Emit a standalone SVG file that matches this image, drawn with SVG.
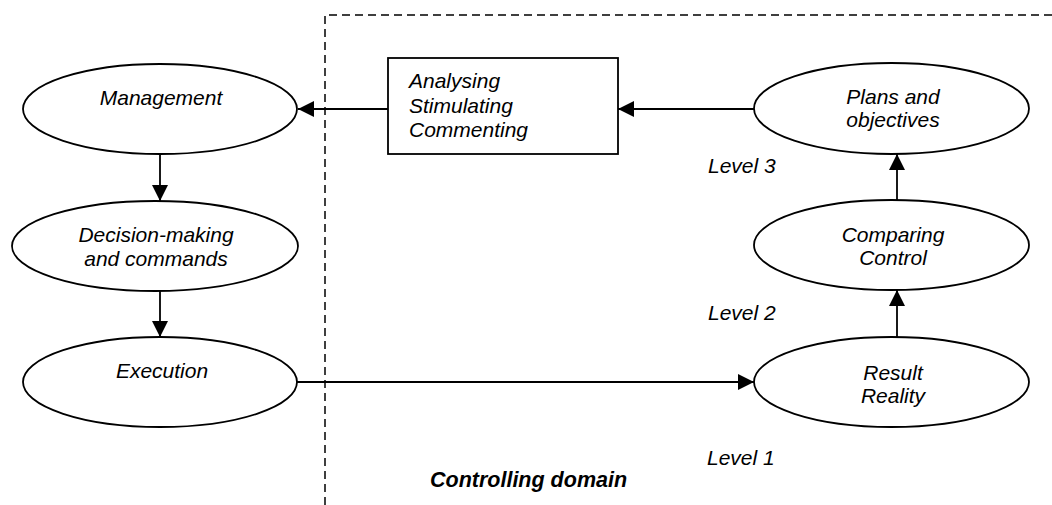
<svg xmlns="http://www.w3.org/2000/svg" width="1052" height="505" viewBox="0 0 1052 505">
  <style>
    .shape { fill: #fff; stroke: #000; stroke-width: 1.8; }
    .edge { fill: none; stroke: #000; stroke-width: 1.8; }
    .lbl { font-family: "Liberation Sans", Arial, sans-serif; font-size: 21px; font-style: italic; fill: #000; }
    .mid { text-anchor: middle; }
    .bold { font-weight: bold; font-size: 21.5px; }
    .domain { fill: none; stroke: #000; stroke-width: 1.5; stroke-dasharray: 8 5; }
  </style>
  <defs>
    <marker id="arrow" viewBox="0 0 16 16" refX="16" refY="8" markerWidth="16" markerHeight="16" markerUnits="userSpaceOnUse" orient="auto">
      <path d="M0,0 L16,8 L0,16 Z" fill="#000"/>
    </marker>
  </defs>
  <rect width="1052" height="505" fill="#fff"/>

  <!-- controlling domain boundary -->
  <path class="domain" d="M325,505 L325,15 L1052,15"/>

  <g id="connectors">
    <line class="edge" x1="388" y1="109" x2="298" y2="109" marker-end="url(#arrow)"/>
    <line class="edge" x1="754" y1="109" x2="618" y2="109" marker-end="url(#arrow)"/>
    <line class="edge" x1="160" y1="154" x2="160" y2="201" marker-end="url(#arrow)"/>
    <line class="edge" x1="160" y1="291" x2="160" y2="337" marker-end="url(#arrow)"/>
    <line class="edge" x1="297" y1="382" x2="754" y2="382" marker-end="url(#arrow)"/>
    <line class="edge" x1="897" y1="337" x2="897" y2="290" marker-end="url(#arrow)"/>
    <line class="edge" x1="897" y1="200" x2="897" y2="154" marker-end="url(#arrow)"/>
  </g>

  <g id="management">
    <ellipse class="shape" cx="160" cy="109" rx="137" ry="45"/>
    <text class="lbl mid" x="161" y="105">Management</text>
  </g>

  <g id="decision">
    <ellipse class="shape" cx="155" cy="246" rx="143" ry="45"/>
    <text class="lbl mid" x="156" y="242">Decision-making</text>
    <text class="lbl mid" x="156" y="266">and commands</text>
  </g>

  <g id="execution">
    <ellipse class="shape" cx="160" cy="382" rx="137" ry="45"/>
    <text class="lbl mid" x="162" y="378">Execution</text>
  </g>

  <g id="analysing">
    <rect class="shape" x="388" y="58" width="230" height="96"/>
    <text class="lbl" x="409" y="88">Analysing</text>
    <text class="lbl" x="409" y="113">Stimulating</text>
    <text class="lbl" x="409" y="137">Commenting</text>
  </g>

  <g id="plans">
    <ellipse class="shape" cx="891.5" cy="108.5" rx="137.5" ry="45.5"/>
    <text class="lbl mid" x="893" y="104">Plans and</text>
    <text class="lbl mid" x="893" y="127">objectives</text>
  </g>

  <g id="comparing">
    <ellipse class="shape" cx="891.5" cy="245" rx="137.5" ry="45"/>
    <text class="lbl mid" x="893" y="242">Comparing</text>
    <text class="lbl mid" x="893" y="265">Control</text>
  </g>

  <g id="result">
    <ellipse class="shape" cx="891.5" cy="382" rx="137.5" ry="45"/>
    <text class="lbl mid" x="893" y="380">Result</text>
    <text class="lbl mid" x="893" y="403">Reality</text>
  </g>

  <g id="levels">
    <text class="lbl" x="708" y="173">Level 3</text>
    <text class="lbl" x="708" y="320">Level 2</text>
    <text class="lbl" x="707" y="465">Level 1</text>
  </g>

  <text class="lbl bold" x="430" y="487">Controlling domain</text>
</svg>
